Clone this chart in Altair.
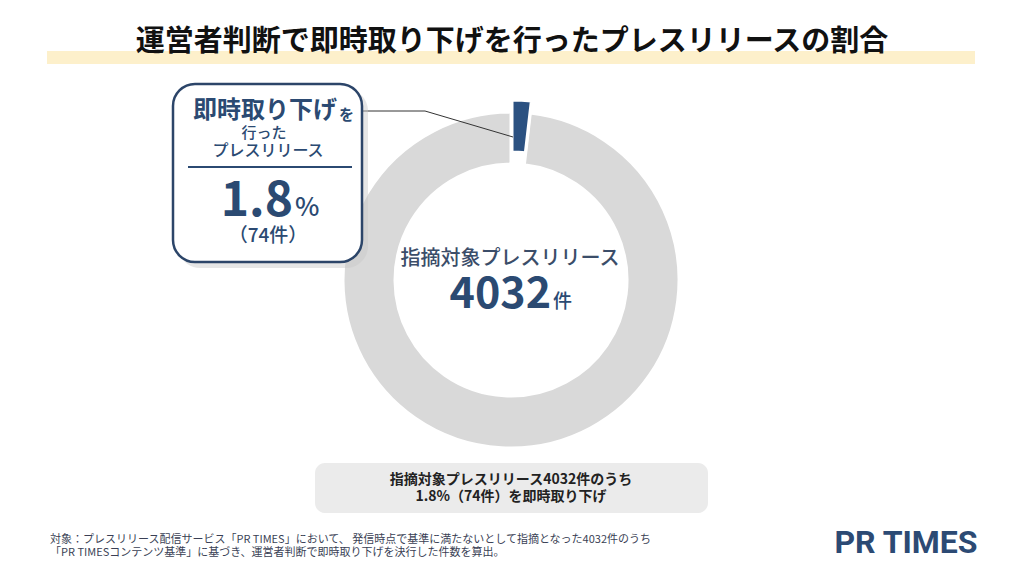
import altair as alt
import pandas as pd

# ---- data ----
categories = ["即時取り下げ", "その他の指摘対象"]
counts = [74, 3958]
slice_colors = ["#2b5181", "#d9d9d9"]

title_text = "運営者判断で即時取り下げを行ったプレスリリースの割合"
callout_head = "即時取り下げ"
callout_head_tail = "を"
callout_sub1 = "行った"
callout_sub2 = "プレスリリース"
callout_pct = "1.8"
callout_pct_unit = "%"
callout_count = "（74件）"
center_label = "指摘対象プレスリリース"
center_number = "4032"
center_unit = "件"
summary_lines = ["指摘対象プレスリリース4032件のうち", "1.8%（74件）を即時取り下げ"]
footnote_lines = [
    "対象：プレスリリース配信サービス「PR TIMES」において、 発信時点で基準に満たないとして指摘となった4032件のうち",
    "「PR TIMESコンテンツ基準」に基づき、運営者判断で即時取り下げを決行した件数を算出。",
]
logo_text = "PR TIMES"

FONT = "Noto Sans CJK JP"
NAVY = "#2b4a72"

df = pd.DataFrame({"cat": categories, "count": counts, "idx": list(range(len(counts)))})
dummy = pd.DataFrame({"a": [0]})

base = (
    alt.Chart(df)
    .transform_window(cum="sum(count)", sort=[alt.SortField("idx")], frame=[None, 0])
    .transform_calculate(start="datum.cum - datum.count")
)
theta_scale = alt.Scale(domain=[0, sum(counts)])
color_scale = alt.Scale(domain=categories, range=slice_colors)


def ring(idx, cx, cy):
    return base.transform_filter(alt.datum.idx == idx).mark_arc(
        innerRadius=116, outerRadius=168, stroke="white", strokeWidth=3
    ).encode(
        theta=alt.Theta("start:Q", scale=theta_scale),
        theta2="cum:Q",
        color=alt.Color("cat:N", scale=color_scale, legend=None),
        x=alt.value(cx),
        y=alt.value(cy),
    )


def txt(s, x, y, size, color=NAVY, weight="normal", align="center", baseline="middle", font=FONT):
    return alt.Chart(dummy).mark_text(
        text=s, fontSize=size, font=font, fontWeight=weight, color=color,
        align=align, baseline=baseline,
    ).encode(x=alt.value(x), y=alt.value(y))


def box(x1, y1, x2, y2, fill, stroke=None, sw=0, r=0, opacity=1):
    kw = dict(fill=fill, cornerRadius=r, opacity=opacity)
    if stroke:
        kw.update(stroke=stroke, strokeWidth=sw)
    return alt.Chart(dummy).mark_rect(**kw).encode(
        x=alt.value(x1), x2=alt.value(x2), y=alt.value(y1), y2=alt.value(y2)
    )


def seg(x1, y1, x2, y2, color, w):
    return alt.Chart(dummy).mark_rule(color=color, strokeWidth=w).encode(
        x=alt.value(x1), x2=alt.value(x2), y=alt.value(y1), y2=alt.value(y2)
    )


layers = [
    # title
    box(47, 51, 975, 64, "#fdf0cb"),
    txt(title_text, 512, 42, 29, color="#111111", weight="bold"),
    # donut
    ring(1, 511, 280),
    ring(0, 512, 268),
    # leader line
    seg(362, 111, 425, 111, "#333333", 1),
    seg(425, 111, 513, 137, "#333333", 1),
    # callout box
    box(178, 89, 368, 268, "#c8c8c8", r=22, opacity=0.45),
    box(173, 84, 362, 262, "white", stroke="#2c4569", sw=2.5, r=22),
    txt(callout_head, 265, 111, 24, weight="bold"),
    txt(callout_head_tail, 339, 115, 15, weight="bold", align="left"),
    txt(callout_sub1, 264, 133, 15, weight=500),
    txt(callout_sub2, 268, 151, 16, weight=500),
    seg(188, 167, 352, 167, NAVY, 2),
    txt(callout_pct, 293, 216, 48, weight="bold", align="right", baseline="alphabetic"),
    txt(callout_pct_unit, 295, 216, 26, weight=500, align="left", baseline="alphabetic"),
    txt(callout_count, 268, 236, 19, weight=500),
    # donut centre
    txt(center_label, 510, 259, 20, color="#3b4d69", weight=500),
    txt(center_number, 551, 308, 43, weight="bold", align="right", baseline="alphabetic"),
    txt(center_unit, 553, 308, 19, weight=500, align="left", baseline="alphabetic"),
    # summary box
    box(315, 463, 708, 513, "#ebebeb", r=10),
    txt(summary_lines[0], 511, 480, 14, color="#222222", weight="bold"),
    txt(summary_lines[1], 511, 497, 14, color="#222222", weight="bold"),
    # footnote
    txt(footnote_lines[0], 50, 540, 11, color="#3a3f55", align="left"),
    txt(footnote_lines[1], 50, 553, 11, color="#3a3f55", align="left"),
    # logo
    txt(logo_text, 906, 543, 32, color="#2c4a74", weight="bold", font="Roboto"),
]

chart = alt.layer(*layers).properties(
    width=1024, height=576,
    autosize=alt.AutoSizeParams(type="none"),
    padding=0,
    background="white",
).configure_view(stroke=None)

chart.save("out.html", embed_options={"renderer": "svg", "actions": False})
